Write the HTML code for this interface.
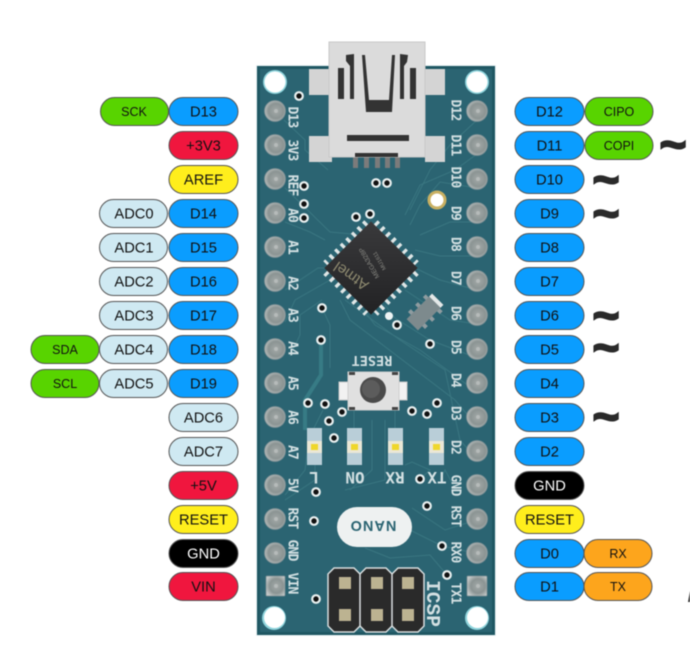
<!DOCTYPE html>
<html>
<head>
<meta charset="utf-8">
<style>
html,body{margin:0;padding:0;background:#fff;width:690px;height:647px;overflow:hidden}
svg{display:block;filter:blur(.6px)}
.p text,text.t{font-family:"Liberation Sans",sans-serif;font-size:14.7px;text-anchor:middle;fill:#111}
.p text.s{font-size:12.5px}
rect.b{fill:#0a9dff;stroke:#555;stroke-width:1}
rect.g{fill:#58d400;stroke:#555;stroke-width:1}
rect.r{fill:#f0163e;stroke:#555;stroke-width:1}
rect.y{fill:#ffee1c;stroke:#555;stroke-width:1}
rect.c{fill:#cfe9f2;stroke:#555;stroke-width:1}
rect.k{fill:#000;stroke:#555;stroke-width:1}
rect.o{fill:#fda51c;stroke:#555;stroke-width:1}
.silk{font-family:"DejaVu Sans Mono","Liberation Mono",monospace;font-weight:bold;font-size:13px;letter-spacing:-.8px;fill:#d3e0e2;text-anchor:middle}
.til{font-family:"Liberation Sans",sans-serif;font-weight:bold;font-size:46px;fill:#2a2a2a;stroke:#2a2a2a;stroke-width:2;text-anchor:middle}
.pin{fill:url(#pinG);stroke:#7d8f94;stroke-width:.8}
.pd{fill:#b5bab9}
.via{fill:#111;stroke:#e9f0f0;stroke-width:2.2}
.tr{fill:none;stroke:#3a7681;stroke-width:1}
</style>
</head>
<body>
<svg width="690" height="647" viewBox="0 0 690 647" xmlns="http://www.w3.org/2000/svg">
<defs>
<radialGradient id="pinG" cx="0.55" cy="0.5" r="0.6"><stop offset="0" stop-color="#a3a9a8"/><stop offset="0.6" stop-color="#8b9493"/><stop offset="1" stop-color="#c3c8c8"/></radialGradient>
<linearGradient id="chipG" x1="0" y1="0" x2="1" y2="1"><stop offset="0" stop-color="#3a3a3c"/><stop offset="1" stop-color="#222224"/></linearGradient>
</defs>

<!-- Board -->
<rect x="256" y="65" width="240" height="571" fill="#e8f2f4"/>
<rect x="257" y="66" width="238" height="569" fill="#1f5763"/>
<rect x="260" y="69" width="232" height="563" fill="#2b6472"/>

<!-- Traces -->
<path class="tr" d="M284 120L305 140V150L328 170M285 188L330 232L352 234M285 222L310 232L325 240M285 290L318 268L330 268M285 322L295 300L330 280M290 356L300 335V315L322 300M477 120L450 145L430 170L410 210M477 154L455 170L420 185L405 215M477 188L440 182L420 205L410 225M477 222L450 222L420 235M477 256L440 256L415 250M477 290L440 280L415 268M477 324L450 320L405 290M477 358L430 340L395 318L385 305M477 392L420 350L375 325L360 305M477 426L455 400L350 320L340 300M477 460L460 440L445 370L400 340L345 300M322 308L330 325V368M354 428V410M395 428V410M314 428L323 410M315 465V480L285 500M285 495L305 470L310 430M350 490L372 470V420M345 490L385 480V420M440 480L445 470L456 490M405 465L412 462L430 470L420 479M410 530L442 546L470 552M365 548L390 558L430 555L447 575M412 508L445 530L470 522"/>
<path d="M321 342V375L305 400V430" fill="none" stroke="#377b85" stroke-width="4"/>

<!-- Mounting holes -->
<circle cx="275" cy="82" r="12" fill="#8fd4dc"/><circle cx="275" cy="82" r="10.500" fill="#fff"/>
<circle cx="477" cy="82" r="12" fill="#8fd4dc"/><circle cx="477" cy="82" r="10.500" fill="#fff"/>
<circle cx="274" cy="618" r="12" fill="#8fd4dc"/><circle cx="274.500" cy="617.500" r="10.500" fill="#fff"/>
<circle cx="477" cy="618" r="12" fill="#8fd4dc"/><circle cx="477.500" cy="617.500" r="10.500" fill="#fff"/>

<!-- Pins -->
<g class="pin">
<circle cx="275" cy="111" r="10.500"/><circle cx="275" cy="145" r="10.500"/><circle cx="275" cy="179" r="10.500"/><circle cx="275" cy="213" r="10.500"/><circle cx="275" cy="247" r="10.500"/><circle cx="275" cy="281" r="10.500"/><circle cx="275" cy="315" r="10.500"/><circle cx="275" cy="349" r="10.500"/><circle cx="275" cy="383" r="10.500"/><circle cx="275" cy="417" r="10.500"/><circle cx="275" cy="451" r="10.500"/><circle cx="275" cy="485" r="10.500"/><circle cx="275" cy="519" r="10.500"/><circle cx="275" cy="553" r="10.500"/>
<circle cx="477" cy="111" r="10.500"/><circle cx="477" cy="145" r="10.500"/><circle cx="477" cy="179" r="10.500"/><circle cx="477" cy="213" r="10.500"/><circle cx="477" cy="247" r="10.500"/><circle cx="477" cy="281" r="10.500"/><circle cx="477" cy="315" r="10.500"/><circle cx="477" cy="349" r="10.500"/><circle cx="477" cy="383" r="10.500"/><circle cx="477" cy="417" r="10.500"/><circle cx="477" cy="451" r="10.500"/><circle cx="477" cy="485" r="10.500"/><circle cx="477" cy="519" r="10.500"/><circle cx="477" cy="553" r="10.500"/>
<rect x="266" y="576" width="19" height="20" rx="1"/><rect x="467" y="576" width="20" height="20" rx="1"/>
</g>
<g class="pd">
<circle cx="276" cy="111" r="2"/><circle cx="276" cy="145" r="2"/><circle cx="276" cy="179" r="2"/><circle cx="276" cy="213" r="2"/><circle cx="276" cy="247" r="2"/><circle cx="276" cy="281" r="2"/><circle cx="276" cy="315" r="2"/><circle cx="276" cy="349" r="2"/><circle cx="276" cy="383" r="2"/><circle cx="276" cy="417" r="2"/><circle cx="276" cy="451" r="2"/><circle cx="276" cy="485" r="2"/><circle cx="276" cy="519" r="2"/><circle cx="276" cy="553" r="2"/><circle cx="276" cy="586" r="2"/>
<circle cx="478" cy="111" r="2"/><circle cx="478" cy="145" r="2"/><circle cx="478" cy="179" r="2"/><circle cx="478" cy="213" r="2"/><circle cx="478" cy="247" r="2"/><circle cx="478" cy="281" r="2"/><circle cx="478" cy="315" r="2"/><circle cx="478" cy="349" r="2"/><circle cx="478" cy="383" r="2"/><circle cx="478" cy="417" r="2"/><circle cx="478" cy="451" r="2"/><circle cx="478" cy="485" r="2"/><circle cx="478" cy="519" r="2"/><circle cx="478" cy="553" r="2"/><circle cx="478" cy="586" r="2"/>
</g>

<!-- Silk labels -->
<g class="silk">
<text transform="translate(288.500,117) rotate(90)">D13</text>
<text transform="translate(288.500,150) rotate(90)">3V3</text>
<text transform="translate(288.500,185) rotate(90)">REF</text>
<text transform="translate(288.500,215) rotate(90)">A0</text>
<text transform="translate(288.500,247) rotate(90)">A1</text>
<text transform="translate(288.500,283) rotate(90)">A2</text>
<text transform="translate(288.500,315) rotate(90)">A3</text>
<text transform="translate(288.500,348) rotate(90)">A4</text>
<text transform="translate(288.500,383) rotate(90)">A5</text>
<text transform="translate(288.500,417) rotate(90)">A6</text>
<text transform="translate(288.500,452) rotate(90)">A7</text>
<text transform="translate(288.500,485) rotate(90)">5V</text>
<text transform="translate(288.500,518) rotate(90)">RST</text>
<text transform="translate(288.500,550) rotate(90)">GND</text>
<text transform="translate(288.500,583) rotate(90)">VIN</text>
<text transform="translate(451.500,110) rotate(90)">D12</text>
<text transform="translate(451.500,145) rotate(90)">D11</text>
<text transform="translate(451.500,177) rotate(90)">D10</text>
<text transform="translate(451.500,213) rotate(90)">D9</text>
<text transform="translate(451.500,244) rotate(90)">D8</text>
<text transform="translate(451.500,278) rotate(90)">D7</text>
<text transform="translate(451.500,313) rotate(90)">D6</text>
<text transform="translate(451.500,347) rotate(90)">D5</text>
<text transform="translate(451.500,380) rotate(90)">D4</text>
<text transform="translate(451.500,413) rotate(90)">D3</text>
<text transform="translate(451.500,447) rotate(90)">D2</text>
<text transform="translate(451.500,485) rotate(90)">GND</text>
<text transform="translate(451.500,516) rotate(90)">RST</text>
<text transform="translate(451.500,552) rotate(90)">RX0</text>
<text transform="translate(451.500,593) rotate(90)">TX1</text>
<text transform="translate(372,356) rotate(180)" style="font-size:13.5px;letter-spacing:0">RESET</text>
<text transform="translate(314,472) rotate(180)" style="font-size:16px;letter-spacing:0">L</text>
<text transform="translate(355,472) rotate(180)" style="font-size:16px;letter-spacing:0">ON</text>
<text transform="translate(395,472) rotate(180)" style="font-size:16px;letter-spacing:0">RX</text>
<text transform="translate(437,472) rotate(180)" style="font-size:16px;letter-spacing:0">TX</text>
<text transform="translate(427,603.500) rotate(90)" style="font-family:'Liberation Mono',monospace;font-size:19.5px;letter-spacing:0">ICSP</text>
</g>

<!-- USB connector -->
<rect x="309" y="69" width="136" height="26" fill="#d4d4d4"/>
<rect x="309" y="136" width="23" height="26" fill="#d4d4d4"/>
<rect x="425" y="136" width="20" height="26" fill="#d4d4d4"/>
<g fill="#7b7b7b"><rect x="353" y="157" width="5" height="11"/><rect x="364" y="157" width="5" height="11"/><rect x="375" y="157" width="5" height="11"/><rect x="385" y="157" width="5" height="11"/><rect x="395" y="157" width="5" height="11"/></g>
<rect x="329" y="42" width="96" height="115" fill="#dbdbdb" stroke="#c8c8c8"/>
<g fill="#333">
<rect x="338" y="68" width="6" height="31"/>
<rect x="410" y="68" width="6" height="31"/>
<path d="M346 55L354 54V99H350V66L346 61Z"/>
<path d="M400 54L408 55L407 62L404 66V99H400Z"/>
<path d="M362 55L365 55L369 100H389L392 55H395L392 112H366Z"/>
<rect x="347" y="135" width="62" height="6"/>
<rect x="355" y="153" width="43" height="4"/>
</g>

<!-- Vias -->
<g class="via">
<circle cx="299" cy="96" r="3.800"/><circle cx="304" cy="186" r="3.800"/><circle cx="376" cy="183" r="3.800"/><circle cx="387" cy="183" r="3.800"/><circle cx="304" cy="204" r="3.800"/><circle cx="304" cy="218" r="3.800"/><circle cx="356" cy="217" r="3.800"/><circle cx="370" cy="214" r="3.800"/>
<circle cx="322" cy="308" r="3.800"/><circle cx="321" cy="340" r="3.800"/><circle cx="397" cy="325" r="3.800"/><circle cx="430" cy="344" r="3.800"/><circle cx="308" cy="403" r="3.800"/><circle cx="325" cy="404" r="3.800"/><circle cx="342" cy="412" r="3.800"/><circle cx="329" cy="421" r="3.800"/><circle cx="334" cy="438" r="3.800"/><circle cx="412" cy="411" r="3.800"/><circle cx="427" cy="414" r="3.800"/><circle cx="437" cy="403" r="3.800"/>
<circle cx="420" cy="479" r="3.800"/><circle cx="316" cy="492" r="3.800"/><circle cx="314" cy="521" r="3.800"/><circle cx="427" cy="506" r="3.800"/><circle cx="442" cy="546" r="3.800"/><circle cx="447" cy="575" r="3.800"/><circle cx="316" cy="599" r="3.800"/>
</g>
<circle cx="389" cy="316" r="4" fill="#eef4f4"/>
<circle cx="437" cy="200" r="8" fill="#fff" stroke="#c9b062" stroke-width="3"/>

<!-- MCU -->
<g transform="translate(371,268) rotate(45)">
<g stroke="#dfe6e6" stroke-width="6" stroke-dasharray="3.300 4.600" fill="none">
<line x1="-29" y1="-35.500" x2="29" y2="-35.500"/>
<line x1="-29" y1="35.500" x2="29" y2="35.500"/>
<line x1="-35.500" y1="-29" x2="-35.500" y2="29"/>
<line x1="35.500" y1="-29" x2="35.500" y2="29"/>
</g>
<rect x="-33" y="-33" width="66" height="66" fill="url(#chipG)"/>
</g>
<g text-anchor="middle" font-family="'Liberation Sans',sans-serif">
<text transform="translate(371,262) rotate(-120)" font-size="6.500" fill="#8a8a84">MEGA328P</text>
<text transform="translate(381,260) rotate(-120)" font-size="5.500" fill="#8a8a84">MU1611</text>
<text transform="translate(354,272) rotate(-145)" font-size="15" fill="#8f8b70">Atmel</text>
</g>

<!-- Crystal -->
<g transform="translate(425,312) rotate(-45)">
<g fill="#8f9ca0"><rect x="-12" y="-12" width="4" height="24"/><rect x="-2" y="-12" width="4" height="24"/><rect x="9" y="-12" width="4" height="24"/></g>
<rect x="-18" y="-8" width="36" height="16" fill="#7d8a8d"/>
<rect x="14" y="-8" width="4" height="16" fill="#e4e8e8"/>
</g>

<!-- Reset button -->
<rect x="339" y="382" width="68" height="18" fill="#f2f2f2" stroke="#c9c9c9"/>
<rect x="348" y="372" width="51" height="38" fill="#e0e0e0" stroke="#cfcfcf"/>
<g fill="#444"><rect x="349" y="372" width="6" height="3"/><rect x="392" y="372" width="6" height="3"/><rect x="349" y="407" width="6" height="3"/><rect x="392" y="407" width="6" height="3"/></g>
<circle cx="373" cy="390" r="13" fill="#4a4a4a"/>
<circle cx="371" cy="389" r="9" fill="#5c5c5c"/>

<!-- LEDs -->
<g fill="#b9ced8">
<rect x="307" y="428" width="15" height="37"/><rect x="347" y="428" width="15" height="37"/><rect x="388" y="428" width="15" height="37"/><rect x="429" y="428" width="15" height="37"/>
</g>
<g fill="#ebe7d6">
<rect x="307" y="441" width="15" height="12"/><rect x="347" y="441" width="15" height="12"/><rect x="388" y="441" width="15" height="12"/><rect x="429" y="441" width="15" height="12"/>
</g>
<g fill="#efd72c">
<rect x="311" y="444" width="7" height="6"/><rect x="351" y="444" width="7" height="6"/><rect x="392" y="444" width="7" height="6"/><rect x="433" y="444" width="7" height="6"/>
</g>

<!-- NANO -->
<rect x="337" y="507" width="75" height="40" rx="20" fill="#eef1f1"/>
<text transform="translate(373,521) rotate(180)" text-anchor="middle" font-family="'Liberation Sans',sans-serif" font-weight="bold" font-size="14.500" letter-spacing="1" fill="#2b6472">NANO</text>

<!-- ICSP -->
<path d="M334 568H354L360 574L366 568H386L392 574L398 568H418L424 574V626L418 632H398L392 626L386 632H366L360 626L354 632H334L328 626V574Z" fill="#2a2a2a" stroke="#d9dedf" stroke-width="1.500"/>
<path d="M360 574V626M392 574V626" stroke="#d9dedf" stroke-width="1.500"/>
<g fill="#bcb391">
<rect x="339" y="577" width="12" height="12"/><rect x="371" y="577" width="12" height="12"/><rect x="402" y="577" width="12" height="12"/>
<rect x="339" y="609" width="12" height="12"/><rect x="371" y="609" width="12" height="12"/><rect x="402" y="609" width="12" height="12"/>
</g>

<!-- Left pills -->
<g class="p">
<rect class="g" x="100.500" y="97.500" width="68" height="28" rx="14"/><text class="s" x="134" y="116">SCK</text>
<rect class="b" x="169" y="97.500" width="69" height="28" rx="14"/><text x="203.500" y="116.500">D13</text>
<rect class="r" x="169" y="131.500" width="69" height="28" rx="14"/><text x="203.500" y="150.500">+3V3</text>
<rect class="y" x="169" y="165.500" width="69" height="28" rx="14"/><text x="203.500" y="184.500">AREF</text>
<rect class="c" x="99.500" y="199.500" width="68" height="28" rx="14"/><text x="134" y="218.500">ADC0</text>
<rect class="b" x="169" y="199.500" width="69" height="28" rx="14"/><text x="203.500" y="218.500">D14</text>
<rect class="c" x="99.500" y="233.500" width="68" height="28" rx="14"/><text x="134" y="252.500">ADC1</text>
<rect class="b" x="169" y="233.500" width="69" height="28" rx="14"/><text x="203.500" y="252.500">D15</text>
<rect class="c" x="99.500" y="267.500" width="68" height="28" rx="14"/><text x="134" y="286.500">ADC2</text>
<rect class="b" x="169" y="267.500" width="69" height="28" rx="14"/><text x="203.500" y="286.500">D16</text>
<rect class="c" x="99.500" y="301.500" width="68" height="28" rx="14"/><text x="134" y="320.500">ADC3</text>
<rect class="b" x="169" y="301.500" width="69" height="28" rx="14"/><text x="203.500" y="320.500">D17</text>
<rect class="g" x="31" y="335.500" width="68" height="28" rx="14"/><text class="s" x="65" y="354">SDA</text>
<rect class="c" x="99.500" y="335.500" width="68" height="28" rx="14"/><text x="134" y="354.500">ADC4</text>
<rect class="b" x="169" y="335.500" width="69" height="28" rx="14"/><text x="203.500" y="354.500">D18</text>
<rect class="g" x="31" y="369.500" width="68" height="28" rx="14"/><text class="s" x="65" y="388">SCL</text>
<rect class="c" x="99.500" y="369.500" width="68" height="28" rx="14"/><text x="134" y="388.500">ADC5</text>
<rect class="b" x="169" y="369.500" width="69" height="28" rx="14"/><text x="203.500" y="388.500">D19</text>
<rect class="c" x="169" y="403.500" width="69" height="28" rx="14"/><text x="203.500" y="422.500">ADC6</text>
<rect class="c" x="169" y="437.500" width="69" height="28" rx="14"/><text x="203.500" y="456.500">ADC7</text>
<rect class="r" x="169" y="471.500" width="69" height="28" rx="14"/><text x="203.500" y="490.500">+5V</text>
<rect class="y" x="169" y="505.500" width="69" height="28" rx="14"/><text x="203.500" y="524.500">RESET</text>
<rect class="k" x="169" y="539.500" width="69" height="28" rx="14"/><text x="203.500" y="558.500" style="fill:#fff">GND</text>
<rect class="r" x="169" y="572.500" width="69" height="28" rx="14"/><text x="203.500" y="591.500">VIN</text>

<!-- Right pills -->
<rect class="b" x="515" y="97.500" width="69" height="28" rx="14"/><text x="549.500" y="116.500">D12</text>
<rect class="g" x="585" y="97.500" width="68" height="28" rx="14"/><text class="s" x="619" y="116">CIPO</text>
<rect class="b" x="515" y="131.500" width="69" height="28" rx="14"/><text x="549.500" y="150.500">D11</text>
<rect class="g" x="585" y="131.500" width="68" height="28" rx="14"/><text class="s" x="619" y="150">COPI</text>
<rect class="b" x="515" y="165.500" width="69" height="28" rx="14"/><text x="549.500" y="184.500">D10</text>
<rect class="b" x="515" y="199.500" width="69" height="28" rx="14"/><text x="549.500" y="218.500">D9</text>
<rect class="b" x="515" y="233.500" width="69" height="28" rx="14"/><text x="549.500" y="252.500">D8</text>
<rect class="b" x="515" y="267.500" width="69" height="28" rx="14"/><text x="549.500" y="286.500">D7</text>
<rect class="b" x="515" y="301.500" width="69" height="28" rx="14"/><text x="549.500" y="320.500">D6</text>
<rect class="b" x="515" y="335.500" width="69" height="28" rx="14"/><text x="549.500" y="354.500">D5</text>
<rect class="b" x="515" y="369.500" width="69" height="28" rx="14"/><text x="549.500" y="388.500">D4</text>
<rect class="b" x="515" y="403.500" width="69" height="28" rx="14"/><text x="549.500" y="422.500">D3</text>
<rect class="b" x="515" y="437.500" width="69" height="28" rx="14"/><text x="549.500" y="456.500">D2</text>
<rect class="k" x="515" y="471.500" width="69" height="28" rx="14"/><text x="549.500" y="490.500" style="fill:#fff">GND</text>
<rect class="y" x="515" y="505.500" width="69" height="28" rx="14"/><text x="549.500" y="524.500">RESET</text>
<rect class="b" x="515" y="539.500" width="69" height="28" rx="14"/><text x="549.500" y="558.500">D0</text>
<rect class="o" x="584" y="539.500" width="68" height="28" rx="14"/><text class="s" x="618" y="558">RX</text>
<rect class="b" x="515" y="572.500" width="69" height="28" rx="14"/><text x="549.500" y="591.500">D1</text>
<rect class="o" x="584" y="572.500" width="68" height="28" rx="14"/><text class="s" x="618" y="591">TX</text>
</g>

<!-- Tildes -->
<g class="til">
<text x="673" y="160">~</text>
<text x="606" y="195">~</text>
<text x="606" y="229">~</text>
<text x="606" y="331">~</text>
<text x="606" y="363">~</text>
<text x="606" y="432">~</text>
</g>
<path d="M690 591L688 602H690Z" fill="#2a2a2a"/>
</svg>
</body>
</html>
